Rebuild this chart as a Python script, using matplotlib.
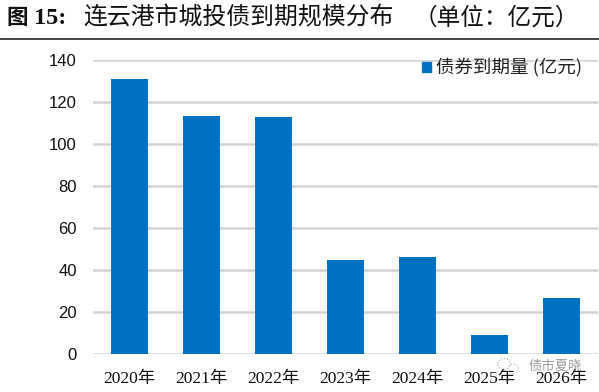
import matplotlib
matplotlib.use('Agg')
import matplotlib.pyplot as plt
from matplotlib.lines import Line2D
from matplotlib.patches import Ellipse

plt.rcParams['font.family'] = ['Noto Sans CJK SC', 'DejaVu Sans']

years = ['2020年', '2021年', '2022年', '2023年', '2024年', '2025年', '2026年']
values = [131, 113.5, 113, 44.5, 46, 9, 26.3]
y_ticks = [0, 20, 40, 60, 80, 100, 120, 140]
series_name = '债券到期量 (亿元)'

W, H = 599, 392
fig = plt.figure(figsize=(W / 100, H / 100), dpi=100)
ax = fig.add_axes([93.5 / W, 1 - 353.5 / H, 504 / W, 293.5 / H])

ax.bar(range(len(years)), values, width=0.51, color='#0070C0', zorder=3, label=series_name)
ax.set_xlim(-0.5, 6.5)
ax.set_ylim(0, 140)
ax.set_yticks(y_ticks)
ax.set_xticks(range(len(years)))
ax.set_xticklabels(years, family=['Liberation Serif', 'Noto Sans CJK SC'], fontsize=12.5, color='#111111')
ax.tick_params(axis='both', length=0)
ax.tick_params(axis='x', pad=12.5)
ax.tick_params(axis='y', pad=12, labelsize=12, labelcolor='#111111')
for lab in ax.get_yticklabels():
    lab.set_family(['Liberation Sans', 'Noto Sans CJK SC'])
ax.grid(axis='y', color='#D4D4D4', linewidth=1.8, zorder=1)
ax.set_axisbelow(True)
for s in ['top', 'right', 'left', 'bottom']:
    ax.spines[s].set_visible(False)
for lab in ax.get_yticklabels() + ax.get_xticklabels():
    lab.set_clip_on(False)

# legend placed by hand so it sits just under the top gridline like the original
ax.add_patch(plt.Rectangle((422 / W, 1 - 72 / H), 9 / W, 10 / H, transform=fig.transFigure,
                           color='#0070C0', zorder=4, clip_on=False))
fig.text(436 / W, 1 - 67 / H, series_name, fontsize=13.3, va='center', ha='left',
         color='#222222', family=['Noto Sans CJK SC', 'Liberation Serif'])

# title and rule
fig.text(6 / W, 1 - 18 / H, '图', fontsize=15.5, va='center', fontweight='bold', color='#111111')
fig.text(34 / W, 1 - 18 / H, '15:', fontsize=17.5, va='center', fontweight='bold',
         family='Liberation Serif', color='#111111')
fig.text(83 / W, 1 - 18 / H, '连云港市城投债到期规模分布', fontsize=17.2, va='center',
         fontweight='medium', color='#111111')
fig.text(414 / W, 1 - 18 / H, '（单位：亿元）', fontsize=17, va='center', color='#111111')
fig.add_artist(Line2D([0, 1], [1 - 38.5 / H, 1 - 38.5 / H], color='#111111', linewidth=1.1))

# watermark
fig.text(529 / W, 1 - 366 / H, '债市夏晓', fontsize=9.6, color='#8A8A8A', va='center', alpha=0.85)
fig.add_artist(Ellipse((504 / W, 1 - 364 / H), 13 / W, 11 / H, fill=False, edgecolor='#BBBBBB',
                       linewidth=0.8, linestyle=':', transform=fig.transFigure))
fig.add_artist(Ellipse((513 / W, 1 - 369 / H), 11 / W, 10 / H, fill=False, edgecolor='#BBBBBB',
                       linewidth=0.8, linestyle=':', transform=fig.transFigure))

fig.savefig('out.png', dpi=100)
